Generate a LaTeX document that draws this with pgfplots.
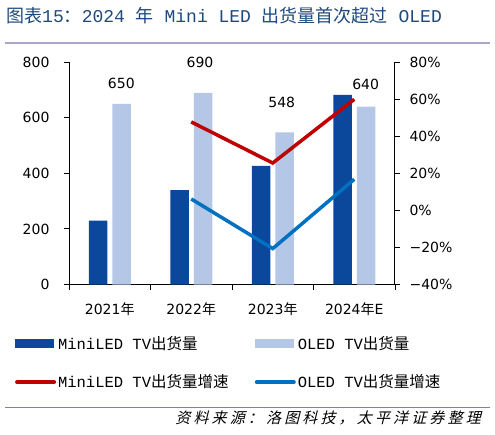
\documentclass[border=0pt]{standalone}
\usepackage{fontspec}
\usepackage{pgfplots}
\pgfplotsset{compat=1.18}
\setmainfont{DejaVu Sans}
\newfontfamily\cjk{Noto Sans CJK SC}
\newfontfamily\cjksl{Noto Sans CJK SC}[FakeSlant=0.25, LetterSpace=21]
\newfontfamily\mono{Liberation Mono}
\definecolor{mini}{RGB}{11,71,155}
\definecolor{oled}{RGB}{180,199,231}
\definecolor{redl}{RGB}{192,0,0}
\definecolor{bluel}{RGB}{0,112,192}
\definecolor{ttl}{RGB}{31,73,125}
\definecolor{rulec}{RGB}{168,168,200}
\definecolor{rulec2}{RGB}{128,128,176}
\begin{document}
\begin{tikzpicture}[x=1pt,y=1pt]
\path (0,0) rectangle (495,434);
\node[anchor=west, text=ttl, inner sep=0pt] at (6,418) {\fontsize{18}{18}\selectfont{\cjk 图表}{\mono 15}{\cjk ：}{\mono 2024\ }{\cjk 年}{\mono\ Mini LED\ }{\cjk 出货量首次超过}{\mono\ OLED}};
\draw[rulec, line width=2.2pt] (5,391) -- (490,391);
\draw[rulec2, line width=1pt] (5,26.7) -- (490,26.7);
\node[anchor=east, inner sep=0pt] at (481,16) {\fontsize{15}{15}\selectfont\cjksl 资料来源：洛图科技，太平洋证券整理};

\begin{axis}[
  at={(69pt,149.5pt)}, anchor=south west, scale only axis,
  width=326pt, height=222.2pt,
  xmin=-0.5, xmax=3.5, ymin=0, ymax=800,
  ytick={0,200,400,600,800},
  axis x line*=bottom, axis y line*=left,
  axis line style={-, line width=1pt, black},
  xtick={-0.5,0.5,1.5,2.5,3.5},
  x tick label as interval,
  xticklabels={2021{\cjk 年},2022{\cjk 年},2023{\cjk 年},2024{\cjk 年}E},
  tick align=outside, major tick length=5pt,
  tick style={black, line width=1pt},
  ticklabel style={font=\fontsize{14}{14}\selectfont},
  /pgf/number format/assume math mode=true,
  yticklabel style={xshift=-11pt},
  xticklabel style={yshift=-10pt},
  clip=false,
]
\addplot[ybar, bar width=18.4pt, bar shift=-11.6pt, fill=mini, draw=none] coordinates {(0,230) (1,340) (2,427) (3,683)};
\addplot[ybar, bar width=18.4pt, bar shift=11.8pt, fill=oled, draw=none] coordinates {(0,650) (1,690) (2,548) (3,640)};
\addplot[only marks, mark=*, mark size=0pt, nodes near coords, point meta=explicit symbolic,
  nodes near coords style={anchor=center, font=\fontsize{14}{14}\selectfont, inner sep=0pt}]
  table[meta=l] {
x y l
0.142 723 650
1.107 801 690
2.110 654 548
3.140 722 640
};
\end{axis}

\begin{axis}[
  at={(69pt,149.5pt)}, anchor=south west, scale only axis,
  width=326pt, height=222.2pt,
  xmin=-0.5, xmax=3.5, ymin=-40, ymax=80,
  axis x line=none, axis y line*=right,
  axis line style={-, line width=1pt, black},
  ytick={-40,-20,0,20,40,60,80},
  yticklabels={−40\%,−20\%,0\%,20\%,40\%,60\%,80\%},
  tick align=outside, major tick length=5pt,
  tick style={black, line width=1pt},
  ticklabel style={font=\fontsize{14}{14}\selectfont},
  yticklabel style={xshift=6pt},
  clip=false,
  legend columns=2,
  legend style={draw=none, fill=none, inner sep=0pt, at={(-0.1666,-0.223)}, anchor=north west,
    font=\fontsize{15.5}{15.5}\selectfont\cjk, row sep=20pt,
    /tikz/every even column/.append style={column sep=24pt},
    nodes={inner sep=2pt}},
  legend cell align=left,
]
\addlegendimage{legend image code/.code={\fill[mini] (0pt,-4pt) rectangle (38pt,4pt);}}
\addlegendimage{legend image code/.code={\fill[oled] (0pt,-4pt) rectangle (38pt,4pt);}}
\addplot[redl, line width=3.5pt, legend image code/.code={\draw[redl, line width=4pt, line cap=round] (2pt,0pt) -- (39pt,0pt);}] coordinates {(1,47.8) (2,25.6) (3,60.0)};
\addplot[bluel, line width=3.5pt, legend image code/.code={\draw[bluel, line width=4pt, line cap=round] (2pt,0pt) -- (39pt,0pt);}] coordinates {(1,6.2) (2,-20.6) (3,16.8)};
\legend{{\mono MiniLED TV}出货量, {\mono OLED TV}出货量, {\mono MiniLED TV}出货量增速, {\mono OLED TV}出货量增速}
\end{axis}
\end{tikzpicture}
\end{document}
